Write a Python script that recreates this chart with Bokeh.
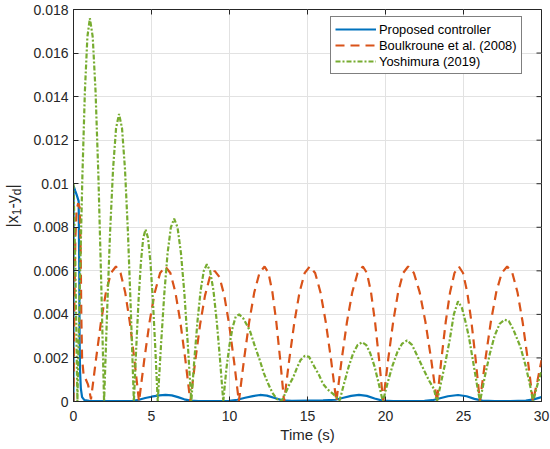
import math
from bokeh.plotting import figure
from bokeh.layouts import row
from bokeh.models import FixedTicker, Range1d, Legend, LegendItem
from bokeh.core.properties import value
from bokeh.embed import file_html
from bokeh.resources import INLINE

# ---------------- data ----------------
x_ticks = [0, 5, 10, 15, 20, 25, 30]
y_ticks = [0.0, 0.002, 0.004, 0.006, 0.008, 0.01, 0.012, 0.014, 0.016, 0.018]
y_tick_labels = ["0", "0.002", "0.004", "0.006", "0.008", "0.01", "0.012", "0.014", "0.016", "0.018"]

series_names = ["Proposed controller", "Boulkroune et al. (2008)", "Yoshimura (2019)"]

t_prop = [0, 0.005, 0.1, 0.2, 0.33, 0.37, 0.39, 0.42, 0.47, 0.55, 0.7, 1.0, 2.0, 3.0, 3.8,
          4.2, 4.6, 5.0, 5.5, 5.9, 6.3, 6.7, 7.1, 7.5, 8.0, 9.0, 10.0, 10.5, 11.0, 11.5,
          11.95, 12.4, 12.9, 13.4, 14.0, 15.0, 16.0, 16.8, 17.3, 17.8, 18.3, 18.8, 19.3,
          19.8, 20.5, 21.5, 22.5, 23.0, 23.5, 24.0, 24.65, 25.2, 25.7, 26.2, 27.0, 28.0,
          29.0, 29.5, 30.0]
e_prop = [0.0, 0.0099, 0.0097, 0.0095, 0.0092, 0.006, 0.003, 0.0014, 0.0006, 0.0002,
          0.00006, 0.00003, 0.00002, 0.00002, 0.00003, 0.00008, 0.00016, 0.00022, 0.00028,
          0.0003, 0.00028, 0.0002, 0.0001, 0.00004, 0.00002, 0.00002, 0.00003, 0.00008,
          0.00017, 0.00025, 0.0003, 0.00027, 0.00016, 0.00005, 0.00003, 0.00004, 0.00005,
          0.00008, 0.00017, 0.00026, 0.0003, 0.00026, 0.00014, 0.00004, 0.00002, 0.00002,
          0.00003, 0.00006, 0.00015, 0.00024, 0.0003, 0.00024, 0.00012, 0.00004, 0.00002,
          0.00002, 0.00004, 0.0001, 0.0002]

t_boul = [0, 0.05, 0.12, 0.2, 0.3, 0.4, 0.46, 0.5, 0.55, 0.65, 0.8, 0.92, 1.02, 1.12,
          1.44, 1.76, 2.08, 2.40, 2.72, 3.016, 3.312, 3.608, 3.904, 4.2,
          4.538, 4.876, 5.214, 5.552, 5.89, 6.21, 6.53, 6.85, 7.17, 7.49,
          7.802, 8.114, 8.426, 8.738, 9.05, 9.36, 9.67, 9.98, 10.29, 10.6,
          10.93, 11.26, 11.59, 11.92, 12.25, 12.5, 12.75, 13.0, 13.25, 13.5,
          13.83, 14.16, 14.49, 14.82, 15.15, 15.49, 15.83, 16.17, 16.51, 16.85,
          17.19, 17.53, 17.87, 18.21, 18.55, 18.81, 19.07, 19.33, 19.59, 19.85,
          20.17, 20.49, 20.81, 21.13, 21.45, 21.82, 22.19, 22.56, 22.93, 23.3,
          23.58, 23.86, 24.14, 24.42, 24.7, 24.97, 25.24, 25.51, 25.78, 26.05,
          26.4, 26.75, 27.1, 27.45, 27.8, 28.13, 28.46, 28.79, 29.12, 29.45,
          29.75, 30.0]
e_boul = [0.0, 0.004, 0.0075, 0.0088, 0.0091, 0.0089, 0.0070, 0.0040, 0.0020, 0.0012,
          0.0010, 0.0008, 0.0005, 0.0001,
          0.00192, 0.00365, 0.00502, 0.0059, 0.0062, 0.0059, 0.00502, 0.00365, 0.00192, 0.0,
          0.00192, 0.00365, 0.00502, 0.0059, 0.0062, 0.0059, 0.00502, 0.00365, 0.00192, 0.0,
          0.00185, 0.00353, 0.00485, 0.00571, 0.0060, 0.00571, 0.00485, 0.00353, 0.00185, 0.0,
          0.00192, 0.00365, 0.00502, 0.0059, 0.0062, 0.0059, 0.00502, 0.00365, 0.00192, 0.0,
          0.00192, 0.00365, 0.00502, 0.0059, 0.0062, 0.0059, 0.00502, 0.00365, 0.00192, 0.0,
          0.00192, 0.00365, 0.00502, 0.0059, 0.0062, 0.0059, 0.00502, 0.00365, 0.00192, 0.0,
          0.00192, 0.00365, 0.00502, 0.0059, 0.0062, 0.0059, 0.00502, 0.00365, 0.00192, 0.0,
          0.00192, 0.00365, 0.00502, 0.0059, 0.0062, 0.0059, 0.00502, 0.00365, 0.00192, 0.0,
          0.00192, 0.00365, 0.00502, 0.0059, 0.0062, 0.0059, 0.00502, 0.00365, 0.00192, 0.0,
          0.00098, 0.0019]

t_yosh = [0, 0.12, 0.25, 0.41, 0.57, 0.73, 0.89, 1.05, 1.232, 1.414, 1.596, 1.778, 1.96,
          2.152, 2.344, 2.536, 2.728, 2.92, 3.11, 3.30, 3.49, 3.68, 3.87,
          4.02, 4.17, 4.32, 4.47, 4.62, 4.776, 4.932, 5.088, 5.244, 5.40,
          5.61, 5.82, 6.03, 6.24, 6.45, 6.67, 6.89, 7.11, 7.33, 7.55,
          7.75, 7.95, 8.15, 8.35, 8.55, 8.76, 8.97, 9.18, 9.39, 9.60,
          9.80, 10.0, 10.2, 10.4, 10.62, 10.9, 11.3, 11.6, 11.95, 12.2, 12.49, 12.75, 13.02, 13.34,
          13.6, 13.85, 14.08, 14.3, 14.55, 14.83, 15.1, 15.46, 15.75, 16.0, 16.3, 16.64, 17.06,
          17.35, 17.64, 17.92, 18.21, 18.5, 18.77, 19.03, 19.30, 19.56, 19.83,
          20.14, 20.45, 20.76, 21.07, 21.38, 21.7, 22.1, 22.49, 22.8, 23.1, 23.3,
          23.57, 23.84, 24.11, 24.38, 24.65, 24.9, 25.15, 25.35, 25.6, 25.89, 26.06,
          26.37, 26.69, 27.0, 27.32, 27.63, 27.9, 28.2, 28.65, 29.0, 29.29, 29.46,
          29.75, 30.0]
e_yosh = [0.0100, 0.0062, 0.0, 0.00544, 0.01035, 0.01424, 0.01674, 0.0176, 0.01674, 0.01424,
          0.01035, 0.00544, 0.0,
          0.00408, 0.00776, 0.01068, 0.01255, 0.0132, 0.01255, 0.01068, 0.00776, 0.00408, 0.0,
          0.00244, 0.00465, 0.00639, 0.00751, 0.0079, 0.00751, 0.00639, 0.00465, 0.00244, 0.0,
          0.0026, 0.00494, 0.0068, 0.00799, 0.0084, 0.00799, 0.0068, 0.00494, 0.0026, 0.0,
          0.00195, 0.0037, 0.0051, 0.00599, 0.0063, 0.00599, 0.0051, 0.0037, 0.00195, 0.0,
          0.0015, 0.0026, 0.0034, 0.0039, 0.0040, 0.0038, 0.00326, 0.0026, 0.00188, 0.0013,
          0.0008, 0.0004, 0.00012, 0.00003,
          0.0004, 0.0008, 0.0011, 0.0015, 0.0019, 0.0021, 0.00205, 0.00157, 0.0012, 0.0008,
          0.00055, 0.00035, 0.00005,
          0.00084, 0.0016, 0.0022, 0.00259, 0.00272, 0.00259, 0.0022, 0.0016, 0.00084, 0.0,
          0.00087, 0.00165, 0.00227, 0.00266, 0.0028, 0.0026, 0.0020, 0.0014, 0.00095, 0.00058, 0.0,
          0.0009, 0.0018, 0.0028, 0.0040, 0.0046, 0.0043, 0.0036, 0.00295, 0.0019, 0.00066, 0.0,
          0.00116, 0.0022, 0.00303, 0.00357, 0.00375, 0.0037, 0.0033, 0.0025, 0.0016, 0.00066, 0.0,
          0.0008, 0.0014]

# y-axis label |x_1 - y_d| split into normal / subscript pieces
ylab_text = ["|x", "1", "-y", "d", "|"]
ylab_is_sub = [False, True, False, True, False]

# ---------------- styling ----------------
FONT = "Liberation Sans"
DARK = "#262626"
LEFT_W = 30
W, H = 550, 449
B_TOP, B_BOT = 9, 48          # frame borders shared by both panels
FRAME_H = H - B_TOP - B_BOT

x_lo, x_hi = 0, 30
y_lo, y_hi = 0.0, 0.018

# narrow strip holding the rotated y-axis label (pixel coordinates of its frame)
lab = figure(width=LEFT_W, height=H, output_backend="svg", toolbar_location=None,
             x_range=Range1d(0, LEFT_W), y_range=Range1d(0, FRAME_H),
             x_axis_type=None, y_axis_type=None,
             min_border_left=0, min_border_right=0, min_border_top=B_TOP, min_border_bottom=B_BOT)
lab.outline_line_color = None
lab.grid.visible = False
lab.background_fill_color = "white"
lab.border_fill_color = "white"

main_fs, sub_fs = 16, 12
adv = {"|x": 12.2, "1": 6.7, "-y": 13.3, "d": 6.7, "|": 4.2}
ypos = (H - B_BOT) - 227.0   # label starts at page row ~227 and reads upward
for txt, sub in zip(ylab_text, ylab_is_sub):
    lab.text(x=[16 if sub else 12], y=[ypos], text=[txt], angle=math.pi / 2,
             text_align="left", text_baseline="alphabetic",
             text_font=value(FONT), text_font_size=f"{sub_fs if sub else main_fs}px",
             text_color=DARK)
    ypos += adv[txt]

p = figure(width=W - LEFT_W, height=H, output_backend="svg", toolbar_location=None,
           x_range=Range1d(x_lo, x_hi), y_range=Range1d(y_lo, y_hi),
           min_border_left=71 - LEFT_W, min_border_right=9, min_border_top=B_TOP, min_border_bottom=B_BOT)
p.background_fill_color = "white"
p.border_fill_color = "white"
p.outline_line_color = DARK
p.outline_line_width = 1

p.xaxis.ticker = FixedTicker(ticks=x_ticks)
p.yaxis.ticker = FixedTicker(ticks=y_ticks)
p.yaxis.major_label_overrides = {v: s for v, s in zip(y_ticks, y_tick_labels)}

for ax in (p.xaxis[0], p.yaxis[0]):
    ax.major_tick_in = 5
    ax.major_tick_out = 0
    ax.minor_tick_line_color = None
    ax.axis_line_color = DARK
    ax.major_tick_line_color = DARK
    ax.major_label_text_font = FONT
    ax.major_label_text_font_size = "14px"
    ax.major_label_text_color = DARK
p.yaxis.major_label_standoff = 5
p.xaxis.major_label_standoff = 9
p.xaxis.axis_label = "Time (s)"
p.xaxis.axis_label_text_font = FONT
p.xaxis.axis_label_text_font_size = "15px"
p.xaxis.axis_label_text_font_style = "normal"
p.xaxis.axis_label_text_color = DARK
p.xaxis.axis_label_standoff = 2

p.xgrid.ticker = FixedTicker(ticks=x_ticks)
p.ygrid.ticker = FixedTicker(ticks=y_ticks)
p.grid.grid_line_color = "#e2e2e2"
p.grid.grid_line_width = 1

# ticks on the top and right edges of the box (drawn inward, 5 px)
p.ray(x=x_ticks, y=[y_hi] * len(x_ticks), length=5, length_units="screen",
      angle=-math.pi / 2, line_color=DARK, line_width=1)
p.ray(x=[x_hi] * len(y_ticks), y=y_ticks, length=5, length_units="screen",
      angle=math.pi, line_color=DARK, line_width=1)

r_prop = p.line(t_prop, e_prop, line_color="#0072BD", line_width=2.2)
r_boul = p.line(t_boul, e_boul, line_color="#D95319", line_width=2.2, line_dash="9 6")
r_yosh = p.line(t_yosh, e_yosh, line_color="#77AC30", line_width=2.2, line_dash="5 2 2 2")

legend = Legend(items=[LegendItem(label=series_names[0], renderers=[r_prop]),
                       LegendItem(label=series_names[1], renderers=[r_boul]),
                       LegendItem(label=series_names[2], renderers=[r_yosh])],
                location=(257, 327))
legend.label_text_font = FONT
legend.label_text_font_size = "12.9px"
legend.label_text_color = "#000000"
legend.glyph_width = 41
legend.glyph_height = 16
legend.label_height = 16
legend.label_standoff = 3
legend.padding = 4
legend.spacing = 0
legend.margin = 0
legend.border_line_color = "#000000"
legend.border_line_width = 1
legend.background_fill_color = "white"
legend.background_fill_alpha = 1
p.add_layout(legend)

open("out.html", "w").write(file_html(row(lab, p), INLINE))
